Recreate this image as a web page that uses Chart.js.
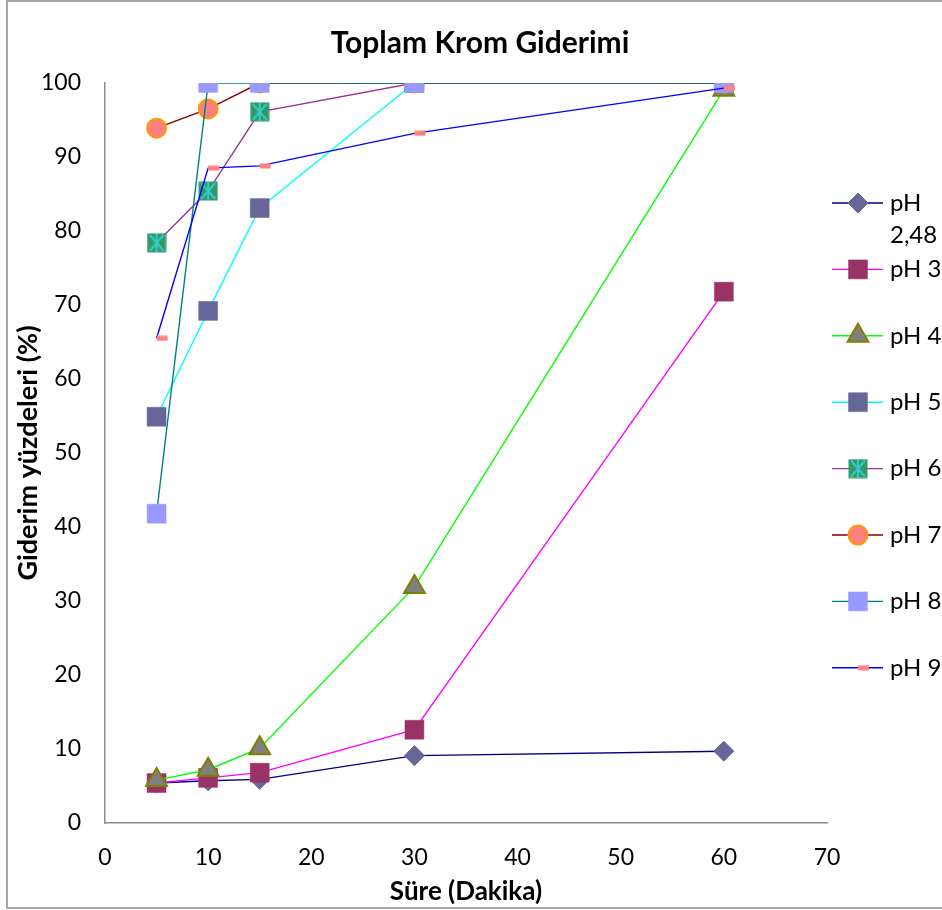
<!DOCTYPE html>
<html>
<head>
<meta charset="utf-8">
<title>Toplam Krom Giderimi</title>
<script src="https://cdn.jsdelivr.net/npm/chart.js@4/dist/chart.umd.min.js"></script>
<style>
  html, body { margin: 0; padding: 0; background: #ffffff; }
  canvas { display: block; }
</style>
</head>
<body>
<canvas id="chart" width="942" height="910"></canvas>
<script>
// Sampling times (minutes)
const minutes = [5, 10, 15, 30, 60];

// Series names as shown in the legend
const seriesNames = ['pH 2,48', 'pH 3', 'pH 4', 'pH 5', 'pH 6', 'pH 7', 'pH 8', 'pH 9'];

// Total chromium removal (%) per pH
const ph248 = [5.4, 5.7, 5.9, 9.1, 9.7];
const ph3   = [5.4, 6.1, 6.8, 12.6, 71.8];
const ph4   = [5.8, 7.2, 10.1, 31.9, 99.1];
const ph5   = [54.9, 69.2, 83.1, 100, 100];
const ph6   = [78.4, 85.4, 96.1, 100, 100];
const ph7   = [93.9, 96.5, 100, 100, 100];
const ph8   = [41.8, 100, 100, 100, 100];
const ph9   = [65.5, 88.5, 88.8, 93.2, 99.3];

// Axis ticks
const xTicks = [0, 10, 20, 30, 40, 50, 60, 70];
const yTicks = [0, 10, 20, 30, 40, 50, 60, 70, 80, 90, 100];

const titleText = 'Toplam Krom Giderimi';
const xTitle = 'Süre (Dakika)';
const yTitle = 'Giderim yüzdeleri (%)';

const FONT = 'Lato, "Open Sans", sans-serif';

// Square marker with an asterisk on top
function starMarker() {
  const c = document.createElement('canvas');
  c.width = 20; c.height = 20;
  const g = c.getContext('2d');
  g.fillStyle = '#339966';
  g.fillRect(0.5, 0.5, 19, 19);
  g.strokeStyle = '#33CCCC';
  g.lineWidth = 2;
  g.beginPath();
  g.moveTo(10, 1); g.lineTo(10, 19);
  g.moveTo(3, 2);  g.lineTo(17, 18);
  g.moveTo(17, 2); g.lineTo(3, 18);
  g.stroke();
  return c;
}

// Short dash marker, drawn just to the right of its point
function dashMarker() {
  const c = document.createElement('canvas');
  c.width = 24; c.height = 6;
  const g = c.getContext('2d');
  g.fillStyle = '#FF8080';
  g.fillRect(12, 0.5, 11, 5);
  return c;
}

const seriesValues = [ph248, ph3, ph4, ph5, ph6, ph7, ph8, ph9];

const seriesStyles = [
  { line: '#000080', fill: '#666699', border: '#666699', style: 'rectRot', radius: 10, bw: 1 },
  { line: '#FF00FF', fill: '#993366', border: '#993366', style: 'rect', radius: 13.4, bw: 0.5 },
  { line: '#00FF00', fill: '#808080', border: '#808000', style: 'triangle', radius: 12, bw: 2 },
  { line: '#00FFFF', fill: '#666699', border: '#666699', style: 'rect', radius: 13.4, bw: 0.5 },
  { line: '#993399', fill: '#339966', border: '#339966', style: starMarker(), radius: 10, bw: 0 },
  { line: '#800000', fill: '#FF8080', border: '#FF9900', style: 'circle', radius: 9.5, bw: 2 },
  { line: '#008080', fill: '#9999FF', border: '#9999FF', style: 'rect', radius: 13.4, bw: 0.5 },
  { line: '#0000FF', fill: '#FF8080', border: '#FF8080', style: dashMarker(), radius: 6, bw: 0 }
];

const datasets = seriesNames.map((name, i) => {
  const s = seriesStyles[i];
  return {
    label: name,
    data: minutes.map((m, k) => ({ x: m, y: seriesValues[i][k] })),
    borderColor: s.line,
    borderWidth: 1.4,
    backgroundColor: s.fill,
    pointStyle: s.style,
    pointRadius: s.radius,
    pointHoverRadius: s.radius,
    pointBackgroundColor: s.fill,
    pointBorderColor: s.border,
    pointBorderWidth: s.bw,
    tension: 0,
    fill: false,
    // later series are painted above earlier ones
    order: seriesNames.length - i
  };
});

// Outer frame, chart title and the right-hand legend
const decorations = {
  id: 'decorations',
  afterDraw(chart) {
    const ctx = chart.ctx;
    ctx.save();

    ctx.strokeStyle = '#A6A6A6';
    ctx.lineWidth = 2;
    ctx.strokeRect(7, 1, 945, 907);

    ctx.fillStyle = '#000000';
    ctx.font = 'bold 30px ' + FONT;
    ctx.textAlign = 'center';
    ctx.textBaseline = 'alphabetic';
    ctx.fillText(titleText, 480, 53);

    const lineX0 = 832, lineX1 = 883, markX = 858, textX = 890;
    const maxTextW = 60;
    const firstY = 203, step = 66.4, lh = 32;
    ctx.font = '24px ' + FONT;
    ctx.textAlign = 'left';
    ctx.textBaseline = 'middle';
    chart.data.datasets.forEach((ds, i) => {
      const y = firstY + step * i;
      ctx.strokeStyle = ds.borderColor;
      ctx.lineWidth = ds.borderWidth;
      ctx.beginPath();
      ctx.moveTo(lineX0, y);
      ctx.lineTo(lineX1, y);
      ctx.stroke();

      ctx.fillStyle = ds.pointBackgroundColor;
      ctx.strokeStyle = ds.pointBorderColor;
      ctx.lineWidth = ds.pointBorderWidth;
      Chart.helpers.drawPoint(ctx, {
        pointStyle: ds.pointStyle,
        radius: ds.pointRadius,
        rotation: 0,
        borderWidth: ds.pointBorderWidth
      }, markX, y);

      // word-wrap long labels onto a second line
      const words = ds.label.split(' ');
      const lines = [];
      let cur = '';
      words.forEach(w => {
        const t = cur ? cur + ' ' + w : w;
        if (cur && ctx.measureText(t).width > maxTextW) { lines.push(cur); cur = w; }
        else cur = t;
      });
      lines.push(cur);
      ctx.fillStyle = '#000000';
      lines.forEach((t, j) => ctx.fillText(t, textX, y + j * lh));
    });

    ctx.restore();
  }
};

const axisColor = '#8C8C8C';

new Chart(document.getElementById('chart'), {
  type: 'line',
  data: { datasets },
  plugins: [decorations],
  options: {
    responsive: false,
    devicePixelRatio: 1,
    animation: false,
    layout: { padding: { top: 83, right: 115, left: 0, bottom: 0 } },
    plugins: {
      legend: { display: false },
      title: { display: false },
      tooltip: { enabled: false }
    },
    scales: {
      x: {
        type: 'linear',
        min: xTicks[0],
        max: xTicks[xTicks.length - 1],
        afterBuildTicks(scale) { scale.ticks = xTicks.map(v => ({ value: v })); },
        afterFit(scale) { scale.height = 87; },
        grid: { display: false, drawTicks: false },
        border: { display: true, color: axisColor, width: 1.5 },
        ticks: { color: '#000000', font: { family: FONT, size: 23 }, padding: 21, maxRotation: 0 },
        title: {
          display: true, text: xTitle, color: '#000000',
          font: { family: FONT, size: 26, weight: 'bold' },
          padding: { top: 0, bottom: 3 }
        }
      },
      y: {
        type: 'linear',
        min: yTicks[0],
        max: yTicks[yTicks.length - 1],
        afterBuildTicks(scale) { scale.ticks = yTicks.map(v => ({ value: v })); },
        afterFit(scale) { scale.width = 105; },
        grid: { display: false, drawTicks: false },
        border: { display: true, color: axisColor, width: 1.5 },
        ticks: { color: '#000000', font: { family: FONT, size: 23 }, padding: 24 },
        title: {
          display: true, text: yTitle, color: '#000000',
          font: { family: FONT, size: 27, weight: 'bold' },
          padding: { top: 12, bottom: 0 }
        }
      }
    }
  }
});
</script>
</body>
</html>
